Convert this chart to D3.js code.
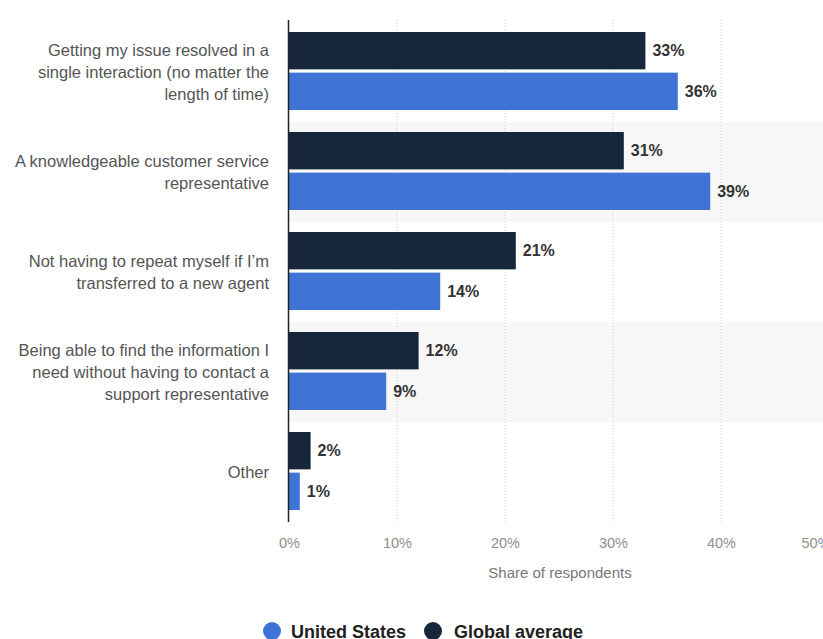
<!DOCTYPE html>
<html><head><meta charset="utf-8">
<script src="https://cdn.jsdelivr.net/npm/d3@7"></script>
<style>body{margin:0;background:#fff}svg{display:block;font-family:"Liberation Sans",Arial,Helvetica,sans-serif}</style>
</head><body>
<svg id="c" width="823" height="639"></svg>
<script>
const categories = [
  ["Getting my issue resolved in a", "single interaction (no matter the", "length of time)"],
  ["A knowledgeable customer service", "representative"],
  ["Not having to repeat myself if I’m", "transferred to a new agent"],
  ["Being able to find the information I", "need without having to contact a", "support representative"],
  ["Other"]
];
const seriesNames = ["Global average", "United States"];
const globalAverage = [33, 31, 21, 12, 2];
const unitedStates = [36, 39, 14, 9, 1];
const tickValues = [0, 10, 20, 30, 40, 50];
const colors = {"United States": "#3f74d6", "Global average": "#16263b"};

const svg = d3.select("#c");
const keys = categories.map((c, i) => i);
const x = d3.scaleLinear().domain([0, 50]).range([289, 829]);
const y = d3.scaleBand().domain(keys).range([22, 522]).paddingInner(0);
const ySub = d3.scaleBand().domain(seriesNames).range([10, 88]).paddingInner(0.08);

// alternating band shading
svg.append("g").selectAll("rect").data(keys.filter(k => k % 2 === 1)).join("rect")
  .attr("x", x(0)).attr("width", 823 - x(0))
  .attr("y", k => y(k)).attr("height", y.bandwidth())
  .attr("fill", "#f7f7f7");

// gridlines
svg.append("g").selectAll("line").data(tickValues.filter(t => t > 0)).join("line")
  .attr("x1", d => x(d)).attr("x2", d => x(d)).attr("y1", 20).attr("y2", 522)
  .attr("stroke", "#cfcfcf").attr("stroke-width", 1).attr("stroke-dasharray", "1,2");

// x axis tick labels
const xAxis = d3.axisBottom(x).tickValues(tickValues).tickFormat(d => d + "%").tickSize(0).tickPadding(16);
const gx = svg.append("g").attr("transform", "translate(0,522)").call(xAxis);
gx.select(".domain").remove();
gx.selectAll("text").attr("fill", "#8f8f8f").style("font-size", "14.5px").style("font-family", "inherit");
gx.selectAll(".tick").filter(d => d === 50).select("text").attr("text-anchor", "start").attr("x", -28);

svg.append("text").attr("x", 560).attr("y", 578).attr("text-anchor", "middle")
  .attr("fill", "#777").style("font-size", "15px").text("Share of respondents");

// bars
const data = [];
keys.forEach(k => {
  data.push({k, s: "Global average", v: globalAverage[k]});
  data.push({k, s: "United States", v: unitedStates[k]});
});
svg.append("g").selectAll("rect").data(data).join("rect")
  .attr("x", x(0)).attr("y", d => y(d.k) + ySub(d.s))
  .attr("width", d => x(d.v) - x(0)).attr("height", ySub.bandwidth())
  .attr("fill", d => colors[d.s]);

svg.append("g").selectAll("text").data(data).join("text")
  .attr("x", d => x(d.v) + 7).attr("y", d => y(d.k) + ySub(d.s) + ySub.bandwidth() / 2)
  .attr("dy", "0.35em").attr("fill", "#333").style("font-size", "16px").style("font-weight", "bold")
  .text(d => d.v + "%");

// y axis line
svg.append("line").attr("x1", 288.5).attr("x2", 288.5).attr("y1", 20).attr("y2", 522)
  .attr("stroke", "#222").attr("stroke-width", 1.5);

// category labels
const lh = 22;
const lab = svg.append("g").selectAll("text").data(keys).join("text")
  .attr("text-anchor", "end").attr("fill", "#555").style("font-size", "16.5px");
lab.each(function(k) {
  const lines = categories[k];
  const cy = y(k) + y.bandwidth() / 2;
  const t = d3.select(this);
  lines.forEach((ln, i) => {
    t.append("tspan").attr("x", 269).attr("y", cy + (i - (lines.length - 1) / 2) * lh).attr("dy", "0.35em").text(ln);
  });
});

// legend
const leg = [{s: "United States", cx: 272, tx: 291}, {s: "Global average", cx: 433, tx: 454}];
const lg = svg.append("g");
lg.selectAll("circle").data(leg).join("circle").attr("cx", d => d.cx).attr("cy", 631).attr("r", 9)
  .attr("fill", d => colors[d.s]);
lg.selectAll("text").data(leg).join("text").attr("x", d => d.tx).attr("y", 638)
  .attr("fill", "#222").style("font-size", "18px").style("font-weight", "bold").text(d => d.s);
</script>
</body></html>
